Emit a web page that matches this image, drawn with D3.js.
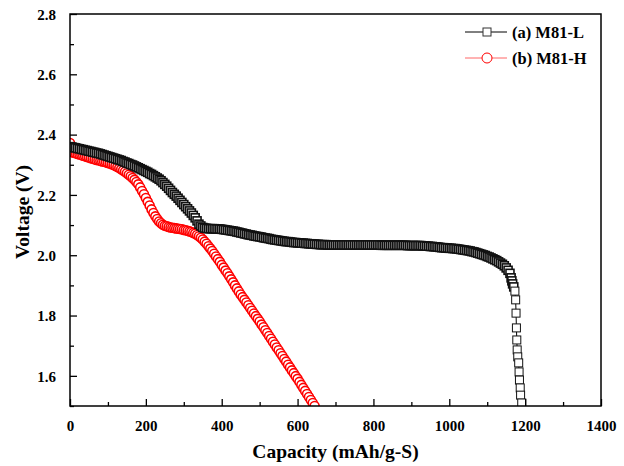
<!DOCTYPE html>
<html>
<head>
<meta charset="utf-8">
<script src="https://cdn.jsdelivr.net/npm/d3@7"></script>
<style>
  body { margin: 0; background: #fff; }
  text { font-family: "Liberation Serif", "Times New Roman", serif; font-weight: bold; }
</style>
</head>
<body>
<svg></svg>
<script>
const width = 624;
const height = 466;
const margin = { top: 14, right: 23, bottom: 60, left: 70 };

// (a) M81-L : [capacity, voltage]
const pointsL = [
    [0, 2.360], [5, 2.359], [10, 2.357], [15, 2.356], [20, 2.354], [25, 2.353], [30, 2.351], [35, 2.350], [40, 2.348], [45, 2.347],
    [50, 2.345], [55, 2.344], [60, 2.342], [65, 2.341], [70, 2.339], [75, 2.338], [80, 2.336], [85, 2.334], [90, 2.332], [95, 2.330],
    [100, 2.328], [105, 2.326], [110, 2.324], [115, 2.322], [120, 2.320], [125, 2.318], [130, 2.316], [135, 2.314], [140, 2.311], [145, 2.309],
    [150, 2.306], [155, 2.304], [160, 2.301], [165, 2.299], [170, 2.296], [175, 2.293], [180, 2.290], [185, 2.287], [190, 2.284], [195, 2.281],
    [200, 2.278], [205, 2.275], [210, 2.271], [215, 2.268], [220, 2.264], [225, 2.260], [230, 2.256], [235, 2.252], [240, 2.247], [245, 2.241],
    [250, 2.235], [255, 2.229], [260, 2.222], [265, 2.215], [270, 2.208], [275, 2.202], [280, 2.196], [285, 2.189], [290, 2.182], [295, 2.175],
    [300, 2.168], [305, 2.161], [310, 2.154], [315, 2.147], [320, 2.140], [325, 2.132], [330, 2.124], [335, 2.114], [340, 2.103], [345, 2.097],
    [350, 2.092], [355, 2.090], [360, 2.089], [365, 2.088], [370, 2.088], [375, 2.088], [380, 2.088], [385, 2.087], [390, 2.087], [395, 2.087],
    [400, 2.086], [405, 2.085], [410, 2.084], [415, 2.083], [420, 2.082], [425, 2.081], [430, 2.080], [435, 2.079], [440, 2.077], [445, 2.076],
    [450, 2.074], [455, 2.073], [460, 2.071], [465, 2.070], [470, 2.068], [475, 2.067], [480, 2.066], [485, 2.064], [490, 2.063], [495, 2.062],
    [500, 2.061], [505, 2.060], [510, 2.058], [515, 2.057], [520, 2.056], [525, 2.055], [530, 2.053], [535, 2.052], [540, 2.051], [545, 2.050],
    [550, 2.049], [555, 2.048], [560, 2.047], [565, 2.046], [570, 2.045], [575, 2.045], [580, 2.044], [585, 2.043], [590, 2.042], [595, 2.042],
    [600, 2.041], [605, 2.041], [610, 2.040], [615, 2.040], [620, 2.039], [625, 2.039], [630, 2.038], [635, 2.038], [640, 2.037], [645, 2.037],
    [650, 2.036], [655, 2.036], [660, 2.035], [665, 2.035], [670, 2.035], [675, 2.035], [680, 2.034], [685, 2.034], [690, 2.034], [695, 2.034],
    [700, 2.034], [705, 2.034], [710, 2.034], [715, 2.034], [720, 2.034], [725, 2.034], [730, 2.034], [735, 2.034], [740, 2.034], [745, 2.034],
    [750, 2.034], [755, 2.034], [760, 2.034], [765, 2.034], [770, 2.034], [775, 2.034], [780, 2.034], [785, 2.034], [790, 2.034], [795, 2.034],
    [800, 2.034], [805, 2.034], [810, 2.034], [815, 2.034], [820, 2.033], [825, 2.033], [830, 2.033], [835, 2.033], [840, 2.033], [845, 2.033],
    [850, 2.033], [855, 2.033], [860, 2.033], [865, 2.033], [870, 2.033], [875, 2.033], [880, 2.033], [885, 2.033], [890, 2.032], [895, 2.032],
    [900, 2.032], [905, 2.032], [910, 2.032], [915, 2.032], [920, 2.032], [925, 2.032], [930, 2.031], [935, 2.031], [940, 2.030], [945, 2.030],
    [950, 2.029], [955, 2.029], [960, 2.028], [965, 2.028], [970, 2.027], [975, 2.026], [980, 2.025], [985, 2.025], [990, 2.024], [995, 2.024],
    [1000, 2.023], [1005, 2.023], [1010, 2.022], [1015, 2.022], [1020, 2.021], [1025, 2.020], [1030, 2.019], [1035, 2.018], [1040, 2.017], [1045, 2.016],
    [1050, 2.015], [1055, 2.014], [1060, 2.012], [1065, 2.011], [1070, 2.009], [1075, 2.007], [1080, 2.005], [1085, 2.003], [1090, 2.001], [1095, 1.999],
    [1100, 1.996], [1105, 1.994], [1110, 1.991], [1115, 1.988], [1120, 1.985], [1125, 1.982], [1130, 1.978], [1135, 1.974], [1140, 1.970], [1145, 1.965],
    [1150, 1.958], [1155, 1.950], [1160, 1.940], [1163, 1.925], [1165, 1.915], [1167, 1.905], [1170, 1.895], [1173, 1.881], [1175, 1.852], [1176, 1.808],
    [1177, 1.759], [1178, 1.719], [1179, 1.686], [1180.5, 1.663], [1183, 1.643], [1184, 1.613], [1185, 1.586], [1187, 1.560], [1188, 1.536], [1191, 1.510]
];

// (b) M81-H : [capacity, voltage]
const pointsH = [
    [0, 2.372], [2, 2.344], [5, 2.342], [10, 2.340], [15, 2.338], [20, 2.336], [25, 2.334], [30, 2.332], [35, 2.330], [40, 2.328],
    [45, 2.326], [50, 2.324], [55, 2.322], [60, 2.320], [65, 2.318], [70, 2.316], [75, 2.315], [80, 2.313], [85, 2.311], [90, 2.310],
    [95, 2.308], [100, 2.306], [105, 2.304], [110, 2.302], [115, 2.299], [120, 2.296], [125, 2.293], [130, 2.289], [135, 2.285], [140, 2.281],
    [145, 2.277], [150, 2.272], [155, 2.267], [160, 2.262], [165, 2.256], [170, 2.250], [175, 2.243], [180, 2.235], [185, 2.225], [190, 2.213],
    [195, 2.202], [200, 2.190], [205, 2.177], [210, 2.165], [215, 2.152], [220, 2.140], [225, 2.129], [230, 2.120], [235, 2.112], [240, 2.106],
    [245, 2.101], [250, 2.098], [255, 2.096], [260, 2.094], [265, 2.092], [270, 2.091], [275, 2.090], [280, 2.089], [285, 2.088], [290, 2.087],
    [295, 2.086], [300, 2.084], [305, 2.083], [310, 2.081], [315, 2.079], [320, 2.077], [325, 2.074], [330, 2.071], [335, 2.067], [340, 2.063],
    [345, 2.058], [350, 2.052], [355, 2.045], [360, 2.038], [365, 2.030], [370, 2.022], [375, 2.014], [380, 2.005], [385, 1.996], [390, 1.987],
    [395, 1.978], [400, 1.968], [405, 1.959], [410, 1.949], [415, 1.940], [420, 1.930], [425, 1.920], [430, 1.910], [435, 1.900], [440, 1.890],
    [445, 1.880], [450, 1.870], [455, 1.861], [460, 1.852], [465, 1.843], [470, 1.834], [475, 1.825], [480, 1.816], [485, 1.807], [490, 1.798],
    [495, 1.789], [500, 1.780], [505, 1.770], [510, 1.761], [515, 1.751], [520, 1.742], [525, 1.732], [530, 1.723], [535, 1.713], [540, 1.704],
    [545, 1.694], [550, 1.685], [555, 1.675], [560, 1.666], [565, 1.656], [570, 1.647], [575, 1.637], [580, 1.628], [585, 1.618], [590, 1.609],
    [595, 1.599], [600, 1.590], [605, 1.580], [610, 1.570], [615, 1.560], [620, 1.550], [625, 1.540], [630, 1.530], [635, 1.520], [640, 1.510],
    [645, 1.500]
];

const xTicks = [0, 200, 400, 600, 800, 1000, 1200, 1400];
const yTicks = [1.6, 1.8, 2.0, 2.2, 2.4, 2.6, 2.8];
const seriesNames = ["(a) M81-L", "(b) M81-H"];

const svg = d3.select("svg")
    .attr("width", width)
    .attr("height", height);

const xScale = d3.scaleLinear()
    .domain([0, 1400])
    .range([margin.left, width - margin.right]);

const yScale = d3.scaleLinear()
    .domain([1.5, 2.8])
    .range([height - margin.bottom, margin.top]);

svg.append("defs").append("clipPath")
    .attr("id", "plot-clip")
    .append("rect")
    .attr("x", margin.left)
    .attr("y", margin.top)
    .attr("width", width - margin.left - margin.right)
    .attr("height", height - margin.top - margin.bottom);

const line = d3.line()
    .x(d => xScale(d[0]))
    .y(d => yScale(d[1]));

const plot = svg.append("g").attr("clip-path", "url(#plot-clip)");

// red series first, black goes on top of it
plot.append("path")
    .datum(pointsH)
    .attr("fill", "none")
    .attr("stroke", "#ff0000")
    .attr("stroke-width", 1)
    .attr("d", line);

plot.selectAll(".pt-h")
    .data(pointsH)
    .enter()
    .append("circle")
    .attr("class", "pt-h")
    .attr("cx", d => xScale(d[0]))
    .attr("cy", d => yScale(d[1]))
    .attr("r", 4.5)
    .attr("fill", "#fff")
    .attr("stroke", "#ff0000")
    .attr("stroke-width", 1.6);

plot.append("path")
    .datum(pointsL)
    .attr("fill", "none")
    .attr("stroke", "#000")
    .attr("stroke-width", 1)
    .attr("d", line);

plot.selectAll(".pt-l")
    .data(pointsL)
    .enter()
    .append("rect")
    .attr("class", "pt-l")
    .attr("x", d => xScale(d[0]) - 4)
    .attr("y", d => yScale(d[1]) - 4)
    .attr("width", 8)
    .attr("height", 8)
    .attr("fill", "#fff")
    .attr("stroke", "#111")
    .attr("stroke-width", d => d[1] < 1.89 ? 1 : 1.6);

// axes, ticks pointing inward
const xAxis = d3.axisBottom(xScale)
    .tickValues(d3.range(0, 1401, 100))
    .tickSize(-7)
    .tickPadding(14)
    .tickFormat(d => xTicks.includes(d) ? d : "");

const yAxis = d3.axisLeft(yScale)
    .tickValues(d3.range(15, 29).map(v => v / 10))
    .tickSize(-7)
    .tickPadding(14)
    .tickFormat(d => yTicks.some(t => Math.abs(t - d) < 1e-9) ? d3.format(".1f")(d) : "");

const gx = svg.append("g")
    .attr("transform", `translate(0, ${height - margin.bottom})`)
    .call(xAxis);

const gy = svg.append("g")
    .attr("transform", `translate(${margin.left}, 0)`)
    .call(yAxis);

[gx, gy].forEach(g => {
    g.select(".domain").remove();
    g.selectAll(".tick line").attr("stroke", "#000").attr("stroke-width", 1.3);
    g.selectAll(".tick text")
        .attr("fill", "#000")
        .style("font-size", "15px");
});

// minor ticks are shorter
gx.selectAll(".tick").filter(d => d % 200 !== 0).select("line").attr("y2", -4);
gy.selectAll(".tick").filter(d => Math.round(d * 10) % 2 !== 0).select("line").attr("x2", 4);

gy.selectAll(".tick text").attr("dy", "0.35em");

// frame
svg.append("rect")
    .attr("x", margin.left)
    .attr("y", margin.top)
    .attr("width", width - margin.left - margin.right)
    .attr("height", height - margin.top - margin.bottom)
    .attr("fill", "none")
    .attr("stroke", "#000")
    .attr("stroke-width", 1.5);

// axis titles
svg.append("text")
    .attr("x", (margin.left + width - margin.right) / 2)
    .attr("y", 458)
    .attr("text-anchor", "middle")
    .style("font-size", "19.5px")
    .text("Capacity (mAh/g-S)");

svg.append("text")
    .attr("transform", "translate(29, 212) rotate(-90)")
    .attr("text-anchor", "middle")
    .style("font-size", "19.5px")
    .text("Voltage (V)");

// legend
const legend = svg.append("g").attr("transform", "translate(465, 32)");

const legendRows = legend.selectAll("g")
    .data(seriesNames)
    .enter()
    .append("g")
    .attr("transform", (d, i) => `translate(0, ${i * 26})`);

legendRows.append("line")
    .attr("x1", 0).attr("x2", 42)
    .attr("y1", 0).attr("y2", 0)
    .attr("stroke", (d, i) => i === 0 ? "#000" : "#ff6666")
    .attr("stroke-width", 1);

legendRows.filter((d, i) => i === 0).append("rect")
    .attr("x", 18).attr("y", -4)
    .attr("width", 8).attr("height", 8)
    .attr("fill", "#fff").attr("stroke", "#333");

legendRows.filter((d, i) => i === 1).append("circle")
    .attr("cx", 22).attr("cy", 0).attr("r", 5)
    .attr("fill", "#fff").attr("stroke", "#ff0000");

legendRows.append("text")
    .attr("x", 47)
    .attr("y", 0)
    .attr("dy", "0.35em")
    .style("font-size", "16.5px")
    .text(d => d);
</script>
</body>
</html>
